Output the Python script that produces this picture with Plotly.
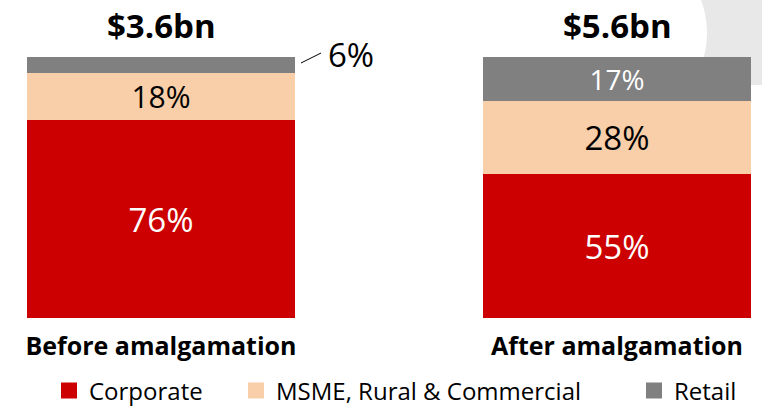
import plotly.graph_objects as go

categories = ["Before amalgamation", "After amalgamation"]
totals = ["$3.6bn", "$5.6bn"]
series_names = ["Corporate", "MSME, Rural & Commercial", "Retail"]
corporate = [76, 55]
msme = [18, 28]
retail = [6, 17]
colors = ["#CC0000", "#F8CFA8", "#808080"]
text_colors = ["white", "black", "white"]

W, H = 762, 409
FONT = "Open Sans"
PX_PER_UNIT = 2.61          # vertical pixels per percentage point
BASE_PX = 318               # pixel row of the bar baseline
YTOP = BASE_PX / PX_PER_UNIT


def yv(py):
    return (BASE_PX - py) / PX_PER_UNIT


def xv(px):
    return (px - 161) / 456


x = [0, 1]
fig = go.Figure()
values = [corporate, msme, retail]
legend_ids = ["legend", "legend2", "legend3"]
legend_sym_px = [71, 258, 656]   # centre of legend squares
for name, vals, col, tcol, lid in zip(series_names, values, colors, text_colors, legend_ids):
    texts = [f"{v}%" if v >= 10 else "" for v in vals]
    fig.add_trace(go.Bar(
        x=x, y=vals, name=name, marker=dict(color=col, line=dict(width=0)),
        width=0.588, text=texts, textposition="inside", insidetextanchor="middle",
        textfont=dict(family=FONT, size=33, color=tcol), textangle=0,
        hoverinfo="skip", cliponaxis=False, showlegend=False,
    ))
    # legend proxy with a bigger square symbol
    fig.add_trace(go.Scatter(
        x=[None], y=[None], name=name, mode="markers", legend=lid,
        marker=dict(symbol="square", size=16, color=col), showlegend=True,
        hoverinfo="skip",
    ))

# outside label for small Retail segment of first bar
small_val = retail[0]
fig.add_shape(type="line", xref="x", yref="y",
              x0=xv(301), y0=yv(63), x1=xv(321), y1=yv(53),
              line=dict(color="black", width=1))
fig.add_annotation(x=xv(351), y=yv(54), xref="x", yref="y", text=f"{small_val}%",
                   showarrow=False, xanchor="center", yanchor="middle",
                   font=dict(family=FONT, size=33, color="black"))

# totals above bars
for xi, t in zip(x, totals):
    fig.add_annotation(x=xi, y=yv(25), xref="x", yref="y", text=f"<b>{t}</b>",
                       showarrow=False, xanchor="center", yanchor="middle",
                       font=dict(family=FONT, size=33, color="black"))

# decorative background
fig.add_shape(type="rect", xref="paper", yref="paper", x0=690 / W, x1=1, y0=1 - 85 / H, y1=1,
              fillcolor="#E8E8E8", line=dict(width=0), layer="below")
fig.add_shape(type="circle", xref="paper", yref="paper",
              x0=519 / W, x1=707 / W, y0=1 - 127 / H, y1=1 + 61 / H,
              fillcolor="white", line=dict(width=0), layer="below")

legend_common = dict(orientation="h", xref="container", yref="container",
                     xanchor="left", y=1 - 391 / H, yanchor="middle",
                     font=dict(family=FONT, size=24, color="black"),
                     bgcolor="rgba(0,0,0,0)", itemclick=False, itemdoubleclick=False)
legend_layout = {}
for lid, sx in zip(legend_ids, legend_sym_px):
    legend_layout[lid] = dict(x=(sx - 22) / W, **legend_common)

fig.update_layout(
    width=W, height=H, margin=dict(l=0, r=0, t=0, b=0, autoexpand=False),
    paper_bgcolor="white", plot_bgcolor="rgba(0,0,0,0)",
    barmode="stack", bargap=0,
    showlegend=True,
    xaxis=dict(domain=[0, 1], range=[-161 / 456, 1 + (W - 617) / 456],
               tickvals=x, ticktext=[f"<b>{c}</b>" for c in categories],
               tickfont=dict(family=FONT, size=25, color="black"),
               showgrid=False, zeroline=False, showline=False, ticks="",
               ticklabelstandoff=11, fixedrange=True, automargin=False),
    yaxis=dict(domain=[1 - BASE_PX / H, 1], range=[0, YTOP], visible=False, fixedrange=True),
    **legend_layout,
)

fig.write_html("out.html", config={"displayModeBar": False},
               post_script="document.body.style.margin='0';")
